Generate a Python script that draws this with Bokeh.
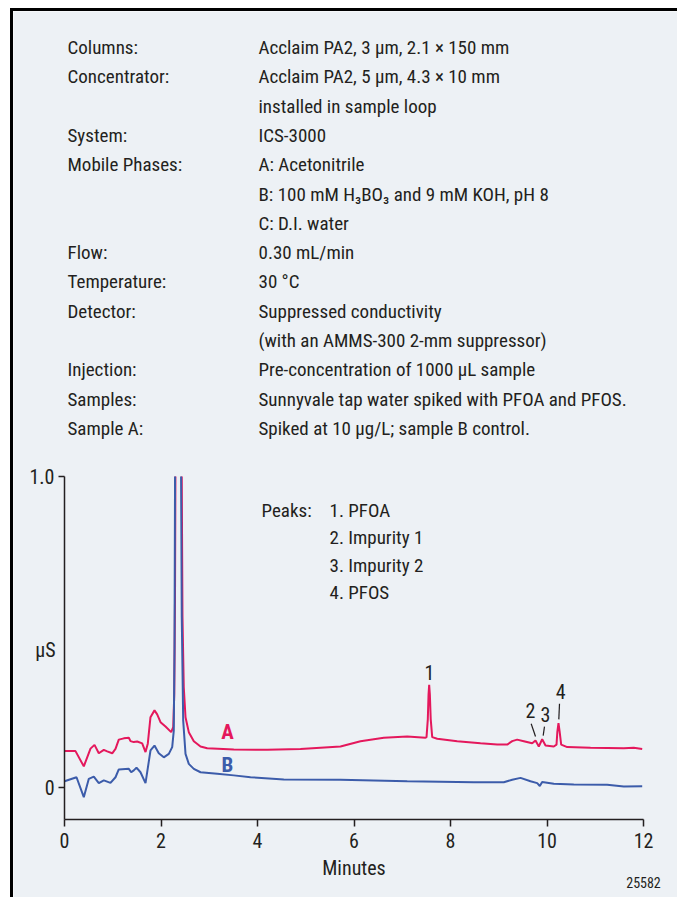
import math
from bokeh.plotting import figure
from bokeh.models import FixedTicker, Range1d
from bokeh.core.properties import value
from bokeh.embed import file_html
from bokeh.resources import INLINE

# ---------------- data ----------------
time_a = [0.0, 0.228, 0.400, 0.539, 0.622, 0.711, 0.815, 0.885, 0.989, 1.057, 1.125, 1.229, 1.333,
          1.368, 1.436, 1.507, 1.610, 1.679, 1.726, 1.782, 1.865, 1.921, 1.990, 2.093, 2.211, 2.253,
          2.275, 2.290, 2.300, 2.340, 2.428, 2.445, 2.472, 2.508, 2.576, 2.680, 2.819, 2.957, 3.509,
          4.201, 4.891, 5.720, 6.135, 6.618, 7.103, 7.482, 7.503, 7.530, 7.545, 7.558, 7.572, 7.590,
          7.621, 7.725, 8.139, 8.622, 8.968, 9.175, 9.279, 9.382, 9.519, 9.693, 9.762, 9.830, 9.900,
          9.969, 10.141, 10.197, 10.215, 10.238, 10.262, 10.294, 10.419, 10.902, 11.592, 11.799, 11.973]
signal_a = [0.117, 0.117, 0.068, 0.125, 0.137, 0.110, 0.121, 0.116, 0.110, 0.124, 0.154, 0.158, 0.160,
            0.149, 0.146, 0.148, 0.142, 0.114, 0.141, 0.226, 0.248, 0.235, 0.210, 0.196, 0.178, 0.194,
            0.300, 0.600, 1.050, 6.000, 1.050, 0.550, 0.322, 0.226, 0.178, 0.149, 0.132, 0.126, 0.122,
            0.121, 0.124, 0.132, 0.149, 0.160, 0.164, 0.160, 0.162, 0.220, 0.300, 0.330, 0.300, 0.220,
            0.162, 0.157, 0.149, 0.142, 0.138, 0.138, 0.149, 0.154, 0.149, 0.142, 0.151, 0.132, 0.155,
            0.135, 0.132, 0.138, 0.180, 0.207, 0.180, 0.138, 0.130, 0.128, 0.126, 0.128, 0.124]

time_b = [0.0, 0.249, 0.400, 0.504, 0.607, 0.711, 0.815, 0.953, 1.057, 1.125, 1.333, 1.382, 1.436,
          1.492, 1.575, 1.679, 1.782, 1.865, 1.954, 2.058, 2.162, 2.232, 2.265, 2.280, 2.292, 2.330,
          2.415, 2.430, 2.460, 2.508, 2.576, 2.680, 2.819, 3.165, 3.509, 3.855, 4.545, 5.720, 7.103,
          8.483, 9.105, 9.279, 9.451, 9.658, 9.797, 9.851, 9.900, 10.141, 10.555, 11.247, 11.592, 11.973]
signal_b = [0.020, 0.033, -0.031, 0.028, 0.035, 0.014, 0.023, 0.015, 0.033, 0.058, 0.060, 0.049, 0.055,
            0.064, 0.049, 0.014, 0.119, 0.135, 0.110, 0.097, 0.108, 0.130, 0.183, 0.450, 1.050, 6.000,
            1.050, 0.550, 0.215, 0.108, 0.076, 0.060, 0.049, 0.044, 0.039, 0.033, 0.026, 0.025, 0.020,
            0.017, 0.017, 0.025, 0.031, 0.020, 0.014, 0.005, 0.018, 0.012, 0.010, 0.009, 0.003, 0.004]

peak_numbers = ["1", "2", "3", "4"]
peak_names = ["PFOA", "Impurity 1", "Impurity 2", "PFOS"]
peak_times = [7.558, 9.762, 9.900, 10.238]
peak_heights = [0.330, 0.151, 0.155, 0.207]

trace_names = ["A", "B"]

condition_labels = ["Columns:", "Concentrator:", "", "System:", "Mobile Phases:", "", "",
                    "Flow:", "Temperature:", "Detector:", "", "Injection:", "Samples:", "Sample A:"]
condition_values = ["Acclaim PA2, 3 \u00b5m, 2.1 \u00d7 150 mm",
                    "Acclaim PA2, 5 \u00b5m, 4.3 \u00d7 10 mm",
                    "installed in sample loop",
                    "ICS-3000",
                    "A: Acetonitrile",
                    "B: 100 mM H\u2083BO\u2083 and 9 mM KOH, pH 8",
                    "C: D.I. water",
                    "0.30 mL/min",
                    "30 \u00b0C",
                    "Suppressed conductivity",
                    "(with an AMMS-300 2-mm suppressor)",
                    "Pre-concentration of 1000 \u00b5L sample",
                    "Sunnyvale tap water spiked with PFOA and PFOS.",
                    "Spiked at 10 \u00b5g/L; sample B control."]

x_ticks = [0, 2, 4, 6, 8, 10, 12]
y_ticks = [0, 1]
y_tick_labels = ["0", "1.0"]
x_title = "Minutes"
y_title = "\u00b5S"
figure_id = "25582"

# ---------------- styles / positions ----------------
BG = "#EDF1F5"
INK = "#231F20"
RED = "#E4185C"
BLUE = "#3C5CAA"
FONT = "Roboto Condensed"
FS = "19px"       # notes and peak list
FS_AX = "20px"    # axis numbers and title

X_MIN, X_MAX = 0, 12
Y_MIN, Y_MAX = -0.103, 1.0
PX_PER_MIN = 48.25      # horizontal scale, px per minute
PX_PER_US = 311.0       # vertical scale, px per uS
ORIGIN_X, ORIGIN_Y = 64.0, 787.0   # page pixel of (0 min, 0 uS)
CANVAS_X, CANVAS_Y = 13.0, 11.0    # page pixel of canvas top-left
W, H = 667, 889


def X(px):
    return (px - ORIGIN_X) / PX_PER_MIN


def Y(py):
    return (ORIGIN_Y - py) / PX_PER_US


def clip_top(xs, ys, top):
    ox, oy = [], []
    for i in range(len(xs)):
        if i > 0:
            x0, y0, x1, y1 = xs[i - 1], ys[i - 1], xs[i], ys[i]
            if (y0 <= top) != (y1 <= top):
                ox.append(x0 + (top - y0) * (x1 - x0) / (y1 - y0))
                oy.append(top)
                if y1 > top:
                    ox.append(math.nan)
                    oy.append(math.nan)
        if ys[i] <= top:
            ox.append(xs[i])
            oy.append(ys[i])
    return ox, oy


# peak label offsets (dx, dy) relative to peak apex, in axis units
label_dx = [0.007, -0.104, 0.069, 0.048]
label_dy = [0.041, 0.097, 0.079, 0.103]
leader_top_dx = [None, -0.090, 0.048, 0.021]
leader_top_dy = [None, 0.054, 0.041, 0.062]
leader_bot_dx = [None, 0.000, 0.021, 0.007]
leader_bot_dy = [None, 0.013, 0.012, 0.012]

x_start = X(CANVAS_X)
y_end = Y(CANVAS_Y)
p = figure(width=W, height=H,
           x_range=Range1d(x_start, x_start + W / PX_PER_MIN),
           y_range=Range1d(y_end - H / PX_PER_US, y_end),
           output_backend="svg", toolbar_location=None, title=None,
           min_border=0, min_border_left=0, min_border_right=0, min_border_top=0, min_border_bottom=0,
           background_fill_color=BG, border_fill_color=BG, outline_line_color=None)
p.styles = {"margin-left": "10px", "margin-top": "8px",
            "border-left": "3px solid #000", "border-top": "3px solid #000"}
p.xgrid.visible = False
p.ygrid.visible = False

# axes (placed inside the canvas at fixed data locations)
for ax in (p.xaxis[0], p.yaxis[0]):
    ax.axis_line_color = INK
    ax.axis_line_width = 1.5
    ax.major_tick_line_color = INK
    ax.major_tick_line_width = 1.5
    ax.major_tick_in = 0
    ax.minor_tick_line_color = None
    ax.major_label_text_color = INK
    ax.major_label_text_font = FONT
    ax.major_label_text_font_size = FS_AX
p.xaxis.fixed_location = Y_MIN
p.xaxis.bounds = (X_MIN, X_MAX)
p.xaxis.ticker = FixedTicker(ticks=x_ticks)
p.xaxis.major_tick_out = 7
p.xaxis.major_label_standoff = 6
p.xaxis.axis_label = x_title
p.xaxis.axis_label_text_font = FONT
p.xaxis.axis_label_text_font_style = "normal"
p.xaxis.axis_label_text_font_size = FS_AX
p.xaxis.axis_label_text_color = INK
p.xaxis.axis_label_standoff = 5
p.yaxis.fixed_location = X_MIN
p.yaxis.bounds = (Y_MIN, Y_MAX)
p.yaxis.ticker = FixedTicker(ticks=y_ticks)
p.yaxis.major_label_overrides = dict(zip(y_ticks, y_tick_labels))
p.yaxis.major_tick_out = 6
p.yaxis.major_label_standoff = 4

# traces (off-scale solvent peak cut at the top of the y axis)
ax_, ay_ = clip_top(time_a, signal_a, Y_MAX)
bx_, by_ = clip_top(time_b, signal_b, Y_MAX)
p.line(ax_, ay_, line_color=RED, line_width=2)
p.line(bx_, by_, line_color=BLUE, line_width=2)

txt = dict(text_color=INK, text_font=value(FONT), text_font_size=FS, text_baseline="middle")

# trace names
p.text(x=[X(227), X(227)], y=[Y(731), Y(764)], text=trace_names, text_color=[RED, BLUE],
       text_font=value(FONT), text_font_style="bold", text_font_size="21px",
       text_align="center", text_baseline="middle")

# peak numbers and leaders
nx = [t + d for t, d in zip(peak_times, label_dx)]
ny = [h + d for h, d in zip(peak_heights, label_dy)]
p.text(x=nx, y=ny, text=peak_numbers, text_align="center",
       text_color=INK, text_font=value(FONT), text_font_size=FS_AX, text_baseline="middle")
idx = [i for i in range(len(peak_times)) if leader_top_dx[i] is not None]
p.segment(x0=[peak_times[i] + leader_top_dx[i] for i in idx],
          y0=[peak_heights[i] + leader_top_dy[i] for i in idx],
          x1=[peak_times[i] + leader_bot_dx[i] for i in idx],
          y1=[peak_heights[i] + leader_bot_dy[i] for i in idx],
          line_color=INK, line_width=1.2)

# peak legend
legend_rows = [Y(510 + 27.3 * i) for i in range(len(peak_names))]
p.text(x=[X(261)], y=[legend_rows[0]], text=["Peaks:"], **txt)
p.text(x=[X(329)] * len(peak_names), y=legend_rows,
       text=[f"{n}. {nm}" for n, nm in zip(peak_numbers, peak_names)], **txt)

# conditions block
rows = [Y(47.0 + 29.3 * i) for i in range(len(condition_labels))]
lab_idx = [i for i, s in enumerate(condition_labels) if s]
p.text(x=[X(67)] * len(lab_idx), y=[rows[i] for i in lab_idx],
       text=[condition_labels[i] for i in lab_idx], **txt)
p.text(x=[X(258)] * len(condition_values), y=rows, text=condition_values, **txt)

# y title and figure id
p.text(x=[X(55)], y=[Y(649)], text=[y_title], text_align="right",
       text_color=INK, text_font=value(FONT), text_font_size=FS_AX, text_baseline="middle")
p.text(x=[X(643)], y=[Y(882)], text=[figure_id], text_align="center",
       text_color=INK, text_font=value(FONT), text_font_size="14px", text_baseline="middle")

open("out.html", "w").write(file_html(p, INLINE))
